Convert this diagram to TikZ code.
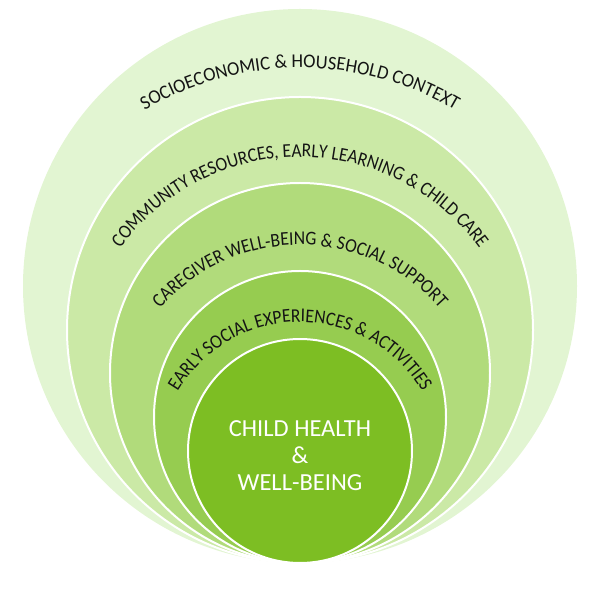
\documentclass[tikz,border=0pt]{standalone}
\usepackage{fontspec}
\setmainfont{Carlito}
\newfontfamily\ringfam{Carlito}[FakeStretch=0.9]
\newfontfamily\ringfamwide{Carlito}[FakeStretch=0.95]
\usetikzlibrary{decorations.text}
\definecolor{ringA}{RGB}{226,245,210}
\definecolor{ringB}{RGB}{203,233,166}
\definecolor{ringC}{RGB}{177,219,123}
\definecolor{ringD}{RGB}{150,204,80}
\definecolor{ringE}{RGB}{125,190,35}
\definecolor{labelink}{RGB}{20,20,20}
\newcommand\ringfont{\ringfam\fontsize{19.5}{20}\selectfont}
\newcommand\ringfontwide{\ringfamwide\fontsize{19.5}{20}\selectfont}
\tikzset{
  ring/.style={fill=#1, draw=white, line width=2pt},
  arclabel/.style={decorate, decoration={text along path, text align=center, text color=labelink, text={#1}}}
}
\begin{document}
\begin{tikzpicture}[x=1pt,y=1pt]
\useasboundingbox (0,0) rectangle (600,600);
\fill[ringA] (300,314) circle (277);
\path[ring=ringB] (300,270) circle (233);
\path[ring=ringC] (300,227) circle (190);
\path[ring=ringD] (300,183) circle (146);
\path[ring=ringE] (300,149) circle (112);
\node[text=white, align=center, font=\fontsize{24.5}{27}\selectfont] (core) at (300,144) {CHILD HEALTH\\\&\\WELL-BEING};
\path[arclabel={|\ringfontwide|SOCIOECONOMIC {\&} HOUSEHOLD CONTEXT}] (300,225) ++(160:307) arc[start angle=160,end angle=20,radius=307];
\path[arclabel={|\ringfont|COMMUNITY RESOURCES, EARLY LEARNING {\&} CHILD CARE}] (300,221) ++(175:222) arc[start angle=175,end angle=5,radius=222];
\path[arclabel={|\ringfont|CAREGIVER WELL-BEING {\&} SOCIAL SUPPORT}] (300,169) ++(175:186) arc[start angle=175,end angle=5,radius=186];
\path[arclabel={|\ringfont|EARLY SOCIAL EXPERIENCES {\&} ACTIVITIES}] (300,136) ++(178:142) arc[start angle=178,end angle=2,radius=142];
\end{tikzpicture}
\end{document}
